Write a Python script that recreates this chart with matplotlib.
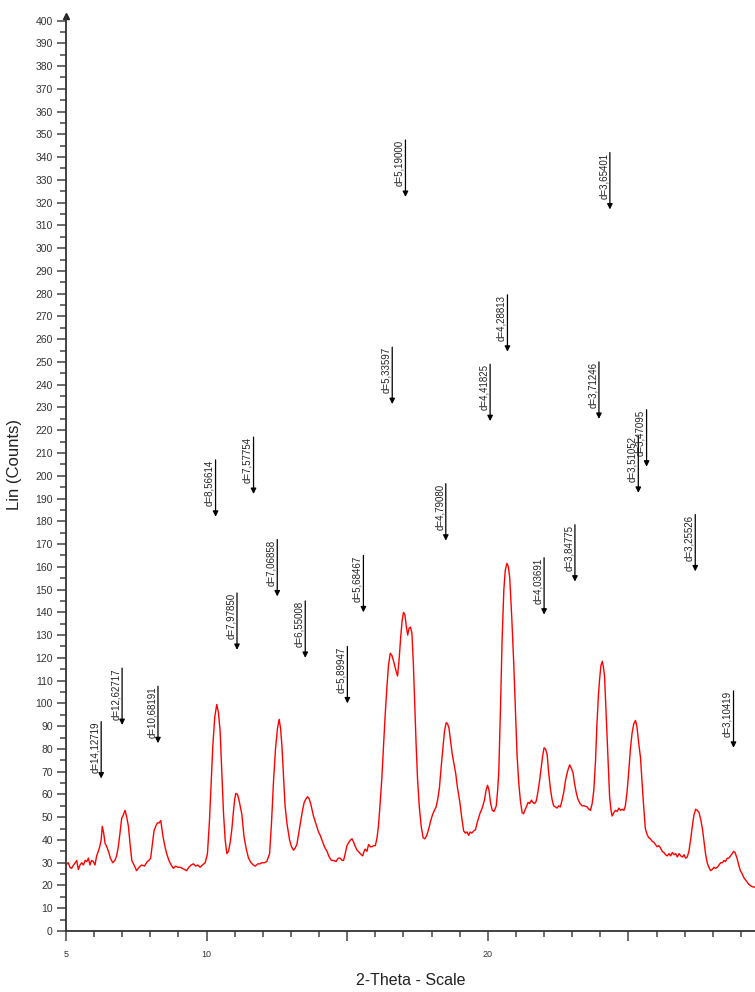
import math
import matplotlib
matplotlib.use('Agg')
import matplotlib.pyplot as plt

plt.rcParams['font.family'] = ['Liberation Sans', 'DejaVu Sans']

# XRD pattern (2-theta in degrees, counts)
two_theta = [
    5.00, 5.08, 5.14, 5.20, 5.27, 5.33, 5.38, 5.44, 5.50, 5.56, 5.62, 5.68, 5.74, 5.80, 5.85, 5.91,
    5.97, 6.03, 6.09, 6.15, 6.20, 6.25, 6.29, 6.34, 6.39, 6.45, 6.51, 6.58, 6.66, 6.74, 6.80, 6.86,
    6.92, 6.98, 7.04, 7.10, 7.16, 7.22, 7.28, 7.34, 7.42, 7.51, 7.60, 7.69, 7.79, 7.89, 7.95, 8.01,
    8.07, 8.13, 8.19, 8.25, 8.31, 8.37, 8.45, 8.52, 8.58, 8.66, 8.74, 8.82, 8.90, 8.98, 9.06, 9.14,
    9.22, 9.29, 9.37, 9.45, 9.53, 9.61, 9.69, 9.77, 9.85, 9.95, 10.03, 10.10, 10.16, 10.22, 10.29,
    10.36, 10.42, 10.48, 10.54, 10.60, 10.66, 10.72, 10.78, 10.84, 10.90, 10.95, 11.00, 11.04, 11.10,
    11.16, 11.25, 11.33, 11.41, 11.49, 11.58, 11.66, 11.73, 11.82, 11.90, 11.96, 12.05, 12.14, 12.24,
    12.31, 12.38, 12.45, 12.52, 12.58, 12.63, 12.68, 12.74, 12.79, 12.86, 12.95, 13.02, 13.09, 13.15,
    13.21, 13.29, 13.35, 13.41, 13.47, 13.53, 13.59, 13.65, 13.71, 13.80, 13.89, 13.98, 14.04, 14.10,
    14.19, 14.28, 14.36, 14.44, 14.52, 14.60, 14.68, 14.75, 14.82, 14.87, 14.93, 14.99, 15.06, 15.12,
    15.17, 15.23, 15.29, 15.35, 15.43, 15.50, 15.55, 15.60, 15.64, 15.70, 15.76, 15.82, 15.88, 15.94,
    16.00, 16.06, 16.11, 16.17, 16.23, 16.29, 16.35, 16.41, 16.47, 16.53, 16.59, 16.65, 16.72, 16.79,
    16.85, 16.90, 16.95, 17.00, 17.05, 17.10, 17.15, 17.20, 17.25, 17.30, 17.35, 17.40, 17.45, 17.50,
    17.56, 17.63, 17.70, 17.76, 17.83, 17.90, 17.96, 18.03, 18.10, 18.16, 18.22, 18.28, 18.34, 18.40,
    18.46, 18.52, 18.57, 18.62, 18.68, 18.73, 18.80, 18.86, 18.92, 19.00, 19.07, 19.14, 19.20, 19.26,
    19.32, 19.37, 19.43, 19.50, 19.56, 19.63, 19.73, 19.80, 19.88, 19.94, 19.99, 20.04, 20.10, 20.16,
    20.22, 20.30, 20.35, 20.39, 20.45, 20.51, 20.57, 20.62, 20.68, 20.73, 20.78, 20.85, 20.92, 20.98,
    21.04, 21.10, 21.16, 21.22, 21.27, 21.33, 21.37, 21.43, 21.49, 21.55, 21.60, 21.66, 21.72, 21.78,
    21.84, 21.90, 21.95, 22.00, 22.05, 22.11, 22.16, 22.22, 22.28, 22.34, 22.40, 22.46, 22.52, 22.58,
    22.64, 22.70, 22.76, 22.83, 22.91, 22.97, 23.03, 23.08, 23.14, 23.20, 23.28, 23.35, 23.42, 23.53,
    23.59, 23.65, 23.71, 23.77, 23.83, 23.88, 23.93, 23.97, 24.02, 24.07, 24.11, 24.15, 24.20, 24.24,
    24.29, 24.33, 24.38, 24.42, 24.48, 24.54, 24.60, 24.66, 24.72, 24.78, 24.84, 24.89, 24.95, 25.01,
    25.07, 25.13, 25.19, 25.25, 25.30, 25.36, 25.43, 25.48, 25.54, 25.60, 25.66, 25.72, 25.78, 25.84,
    25.90, 25.96, 26.02, 26.08, 26.14, 26.20, 26.26, 26.32, 26.38, 26.44, 26.50, 26.56, 26.62, 26.68,
    26.74, 26.80, 26.86, 26.92, 26.98, 27.03, 27.09, 27.15, 27.21, 27.27, 27.33, 27.39, 27.45, 27.51,
    27.57, 27.63, 27.68, 27.74, 27.80, 27.86, 27.92, 27.98, 28.04, 28.10, 28.16, 28.22, 28.28, 28.34,
    28.40, 28.45, 28.51, 28.57, 28.63, 28.69, 28.74, 28.79, 28.86, 28.92, 28.98, 29.05, 29.10, 29.16,
    29.22, 29.28, 29.33, 29.40, 29.45, 29.52,
]
counts = [
    29, 30, 28, 27.5, 29, 30, 31, 27, 29, 30, 29, 31, 30.5, 32, 29, 31,
    30.5, 29, 33, 35, 37, 40, 46, 43, 38.5, 37, 35, 32, 30, 31, 33, 37,
    43, 49.5, 51, 53, 50, 46, 38, 31, 29, 26.5, 28, 29, 28.5, 30.5, 31, 32,
    38, 44, 46, 47.5, 47.5, 48.5, 41.5, 37, 34, 31, 29, 27.5, 28.5, 28, 28, 27.5,
    27, 26.5, 28, 29, 29.5, 28.5, 29, 28, 29, 30, 34, 48, 65, 81, 94,
    99.5, 96, 88, 70, 52, 40, 34, 35, 39, 45, 52, 58, 60.5, 60,
    57, 51.5, 41.5, 36, 32, 30, 29, 28.5, 29.5, 29.5, 30, 30, 30.5, 34,
    48, 66, 80, 89, 93, 89, 81, 67, 55, 47, 40, 37, 35.5, 36.5,
    38, 44, 48.5, 53, 56.5, 58, 59, 58, 55.5, 50.5, 47, 43.5, 42, 40,
    37, 35, 32.5, 31, 31, 30.5, 32, 32, 31, 31, 34, 37.5, 39, 40,
    40.5, 39, 37, 35.5, 34.5, 33.5, 33, 35, 36, 35, 38, 37, 37, 37.5,
    37.5, 41, 46, 56, 67, 81, 95, 107, 117, 122, 121, 118.5, 115, 112,
    120, 129, 136, 140, 139, 134, 130, 133, 133.5, 131, 118, 100, 82, 67,
    55, 46, 41, 40.5, 42, 45, 48, 51, 53, 54.5, 58, 63, 72, 80,
    88, 91.5, 91, 89, 83, 78, 73, 69, 63, 57, 50, 44, 43, 43.5,
    42, 43.5, 43, 44, 44.5, 48, 52, 54, 57.5, 62, 64, 62, 56, 53,
    52.5, 55, 62, 70, 98, 129, 150, 158.5, 161.5, 160, 155, 138, 118, 98,
    77, 65, 57, 52, 51.5, 53.5, 54.5, 56.5, 56, 57.5, 56.5, 56, 57, 61,
    66, 72, 77, 80.5, 80, 77.5, 70, 63, 58, 55, 54.5, 54, 55, 54.5,
    57.5, 61, 66, 70, 73, 71.5, 69.5, 65, 61, 58, 56, 55, 55, 54.5,
    53.5, 53, 56, 62, 75, 91, 103, 110, 116.5, 118.5, 116, 112, 97, 84,
    70, 59, 53, 50.5, 52, 53, 52.5, 54, 53, 53.5, 53, 55, 61, 70,
    80, 87, 91, 92.5, 90, 83, 76, 66, 55, 45, 42.5, 41, 40.5, 39.5,
    39, 38, 37, 37.5, 36.5, 35, 34.5, 33.5, 33, 34, 33, 34.5, 33.5, 34,
    32.5, 34, 33, 32.5, 33.5, 32, 32.5, 35, 40, 46, 51, 53.5, 53, 52,
    49, 45, 40, 34, 30, 28, 26.5, 27, 28, 27.5, 28, 29, 30, 30,
    31, 30.5, 32, 32, 33, 34, 35, 34.5, 32, 29, 26.5, 25, 23.5, 22.5,
    21.5, 20.5, 20, 19.5, 19.3, 19.3,
]

# peak markers: d-spacing (Angstrom) and height of arrow tip (counts)
d_values = [14.12719, 12.62717, 10.68191, 8.56614, 7.97850, 7.57754, 7.06858, 6.55008,
            5.89947, 5.68467, 5.33597, 5.19000, 4.79080, 4.41825, 4.28813, 4.03691,
            3.84775, 3.71246, 3.65401, 3.51052, 3.47095, 3.25526, 3.10419]
arrow_tips = [67, 90.5, 82.5, 182, 123.5, 192, 147, 120,
              100, 140, 231.5, 322.5, 171.5, 224, 254.5, 139,
              153.5, 225, 317, 192.5, 204, 158, 80.5]
wavelength = 1.5406  # Cu K-alpha1

fig = plt.figure(figsize=(7.55, 9.92), dpi=100)
ax = fig.add_axes([0.0874, 0.0615, 0.9126, 0.9224])

ax.plot(two_theta, counts, color='#ff0000', lw=1.0)

# d-spacing arrows
arrow_len = 25
for d, tip in zip(d_values, arrow_tips):
    tt = 2 * math.degrees(math.asin(wavelength / (2 * d)))
    ax.annotate('', xy=(tt, tip), xytext=(tt, tip + arrow_len),
                arrowprops=dict(arrowstyle='-|>', color='black', lw=0.9,
                                mutation_scale=8, shrinkA=0, shrinkB=0))
    label = 'd=' + f'{d:.5f}'.replace('.', ',')
    ax.annotate(label, xy=(tt, tip + arrow_len), xytext=(-0.8, 0), textcoords='offset points',
                rotation=90, ha='right', va='top', fontsize=7, color='#222222')

ax.set_xlim(5, 29.5)
ax.set_ylim(0, 402)

ax.set_xticks([5, 10, 15, 20, 25])
ax.set_xticklabels(['5', '10', '', '20', ''])
ax.set_xticks(range(6, 30), minor=True)
ax.set_yticks(range(0, 401, 10))
ax.set_yticks(range(5, 400, 10), minor=True)

for s in ['top', 'right']:
    ax.spines[s].set_visible(False)
for s in ['left', 'bottom']:
    ax.spines[s].set_color('#333333')
    ax.spines[s].set_linewidth(1.3)

ax.tick_params(axis='y', which='major', length=6.5, width=1.1, color='#444444',
               labelsize=7.5, labelcolor='#333333', pad=3)
ax.tick_params(axis='y', which='minor', length=4.5, width=1.1, color='#444444')
ax.tick_params(axis='x', which='major', length=7, width=1.1, color='#444444',
               labelsize=6.5, labelcolor='#333333', pad=7)
ax.tick_params(axis='x', which='minor', length=4.5, width=1.1, color='#444444')

# little arrowhead on top of y axis
ax.plot([5], [402], marker='^', color='#222222', markersize=4, clip_on=False)

ax.set_ylabel('Lin (Counts)', fontsize=12, color='#222222')
ax.yaxis.set_label_coords(-0.064, 0.51)
ax.set_xlabel('2-Theta - Scale', fontsize=11.5, color='#222222')
ax.xaxis.set_label_coords(0.5, -0.046)

fig.savefig('out.png', dpi=100)
